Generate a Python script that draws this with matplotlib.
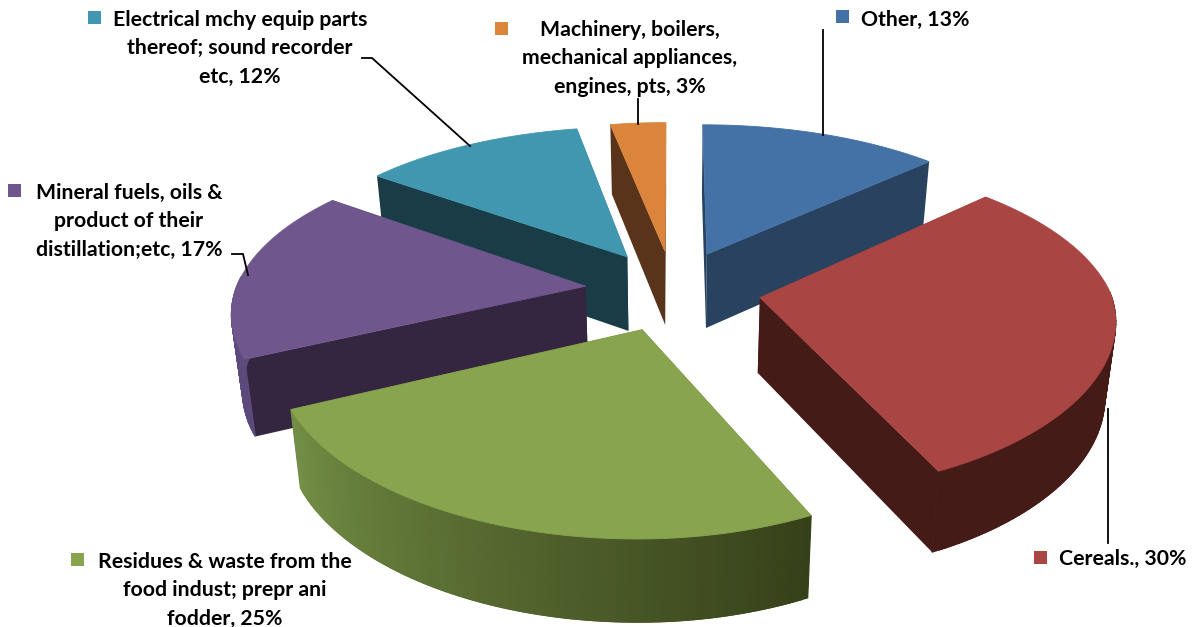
import numpy as np
import matplotlib
matplotlib.use('Agg')
import matplotlib.pyplot as plt
from matplotlib.patches import Polygon, Rectangle
from matplotlib.colors import to_rgb

plt.rcParams['font.family'] = ['Lato', 'DejaVu Sans']

# chart data, clockwise from 12 o'clock
names = ['Other', 'Cereals.', 'Residues', 'Mineral', 'Electrical', 'Machinery']
shares = [13, 30, 25, 17, 12, 3]
top_colors = ['#4471A6', '#A94543', '#88A44E', '#6F578E', '#4097AF', '#DA843C']
wall_colors = ['#28425F', '#451B18', '#364019', '#5D4A7C', '#1A3C46', '#59341A']
cut_colors = ['#28425F', '#451B18', '#364019', '#342540', '#1A3C46', '#59341A']
rim_colors = ['#28425F', '#451B18', '#738E45', '#5D4A7C', '#1A3C46', '#59341A']

# pie geometry, pixels
cx, cy = 673, 290
radius = 350
explode = 88
persp = 0.000463


def x_scale(x, w):
    if w <= 1:
        return w ** 0.9
    return w ** 0.86 if x < 0 else w ** 0.72


def top_pt(x, y):
    w = 1 / (1 + persp * y)
    return cx + x * x_scale(x, w), cy - 0.46 * y * w


def bot_pt(x, y):
    w = 1 / (1 + persp * y)
    return cx + 0.975 * x * x_scale(x, w), cy + 75 - 0.475 * y * w


fig = plt.figure(figsize=(11.94, 6.27), dpi=100)
ax = fig.add_axes([0, 0, 1, 1])
ax.set_xlim(0, 1194)
ax.set_ylim(627, 0)
ax.axis('off')

edges = np.cumsum([0] + shares) / sum(shares) * 2 * np.pi

# back slices first, the front ones paint over them
for i in [0, 5, 4, 3, 1, 2]:
    a0, a1 = edges[i], edges[i + 1]
    mid = (a0 + a1) / 2
    ox, oy = explode * np.sin(mid), explode * np.cos(mid)
    ang = np.linspace(a0, a1, 90)
    xs = ox + radius * np.sin(ang)
    ys = oy + radius * np.cos(ang)
    # cut faces
    for x_end, y_end in [(xs[0], ys[0]), (xs[-1], ys[-1])]:
        quad = [top_pt(ox, oy), top_pt(x_end, y_end), bot_pt(x_end, y_end), bot_pt(ox, oy)]
        ax.add_patch(Polygon(quad, closed=True, fc=cut_colors[i], ec='none'))
    # outer wall, only the part facing us; quads overlap to hide the seams
    for k in range(len(ang) - 2):
        if np.cos(ang[k]) > 0.05:
            continue
        t = k / (len(ang) - 3)
        c = np.array(to_rgb(wall_colors[i])) * (1 - t) + np.array(to_rgb(rim_colors[i])) * t
        quad = [top_pt(xs[k], ys[k]), top_pt(xs[k + 2], ys[k + 2]),
                bot_pt(xs[k + 2], ys[k + 2]), bot_pt(xs[k], ys[k])]
        ax.add_patch(Polygon(quad, closed=True, fc=c, ec=c, lw=0.9))
    # top face
    outline = [top_pt(ox, oy)] + [top_pt(x, y) for x, y in zip(xs, ys)]
    ax.add_patch(Polygon(outline, closed=True, fc=top_colors[i], ec=top_colors[i], lw=0.6))

# leader lines
leaders = [([823, 823], [30, 135]),
           ([638, 638], [99, 124]),
           ([362, 372, 470], [58, 58, 146]),
           ([232, 243, 248], [254, 254, 275]),
           ([1108, 1108], [409, 543])]
for lx, ly in leaders:
    ax.plot(lx, ly, color='black', lw=1.3, solid_joinstyle='miter')

# labels
fs = 15.3
labels = [
    (240, 26, ['Electrical mchy equip parts', 'thereof; sound recorder', 'etc, 12%']),
    (630, 36, ['Machinery, boilers,', 'mechanical appliances,', 'engines, pts, 3%']),
    (129, 199, ['Mineral fuels, oils &', 'product of their', 'distillation;etc, 17%']),
    (225, 568, ['Residues & waste from the', 'food indust; prepr ani', 'fodder, 25%']),
]
for x, y, lines in labels:
    for n, line in enumerate(lines):
        ax.text(x, y + n * 28.3, line, ha='center', va='baseline', fontsize=fs,
                fontweight='bold', color='black')
ax.text(861, 26, 'Other, 13%', ha='left', va='baseline', fontsize=fs, fontweight='bold')
ax.text(1059, 565, 'Cereals., 30%', ha='left', va='baseline', fontsize=fs, fontweight='bold')

# legend keys
keys = [(836, 10, 0), (1034, 551, 1), (71, 553, 2), (8, 184, 3), (88, 11, 4), (495, 22, 5)]
for x, y, idx in keys:
    ax.add_patch(Rectangle((x, y), 13, 13, fc=top_colors[idx], ec='none'))

fig.savefig('out.png', dpi=100)
